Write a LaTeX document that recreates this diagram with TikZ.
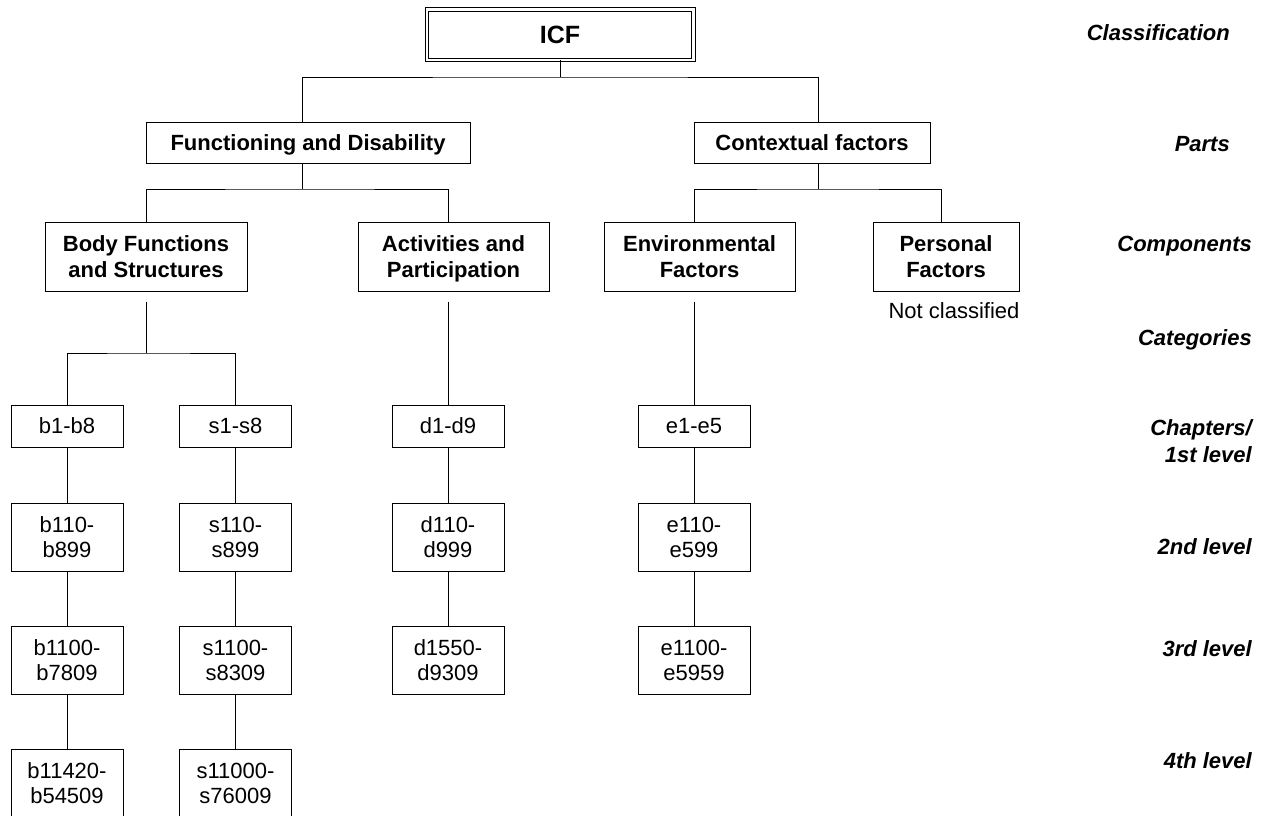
\documentclass[tikz,border=0pt]{standalone}
\usepackage{fontspec}
\setmainfont{Liberation Sans}
\usetikzlibrary{calc}
\begin{document}
\begin{tikzpicture}[x=1pt,y=-1pt,
  conn/.style={line width=1pt},
  box/.style={draw,line width=1pt,inner sep=0pt,align=center,text depth=0pt},
  one/.style={text height=15.75pt},
  two/.style={text height=41.25pt},
  topbox/.style={box,font=\fontsize{22}{25.5}\selectfont\bfseries},
  codebox/.style={box,minimum width=112pt,font=\fontsize{22}{25.5}\selectfont},
  lvl/.style={anchor=base east,inner sep=0pt,align=right,font=\fontsize{22}{27}\selectfont\bfseries\itshape}]
\useasboundingbox (0,0) rectangle (1261,815);
% top
\node[box,double,double distance=2.5pt,minimum width=266.5pt,minimum height=50.5pt,text height=17.9pt,font=\fontsize{25}{28}\selectfont\bfseries] (icf) at (560,34.5) {ICF};
\node[topbox,one,minimum width=324pt,minimum height=41pt] (fd) at (308,142.5) {Functioning and Disability};
\node[topbox,one,minimum width=236pt,minimum height=41pt] (cf) at (812,142.5) {Contextual factors};
\node[topbox,two,minimum width=202pt,minimum height=69pt] (bfs) at (146,256.5) {Body Functions\\and Structures};
\node[topbox,two,minimum width=191pt,minimum height=69pt] (ap) at (453.5,256.5) {Activities and\\Participation};
\node[topbox,two,minimum width=191pt,minimum height=69pt] (ef) at (699.5,256.5) {Environmental\\Factors};
\node[topbox,two,minimum width=146pt,minimum height=69pt] (pf) at (946,256.5) {Personal\\Factors};
\node[anchor=base,inner sep=0pt,font=\fontsize{22}{25}\selectfont] (nc) at (954,318) {Not classified};
% code boxes
\node[codebox,one,minimum height=42pt] (b1) at (67,426) {b1-b8};
\node[codebox,one,minimum height=42pt] (s1) at (235.5,426) {s1-s8};
\node[codebox,one,minimum height=42pt] (d1) at (448,426) {d1-d9};
\node[codebox,one,minimum height=42pt] (e1) at (694,426) {e1-e5};
\node[codebox,two,minimum height=68pt] (b2) at (67,537) {b110-\\b899};
\node[codebox,two,minimum height=68pt] (s2) at (235.5,537) {s110-\\s899};
\node[codebox,two,minimum height=68pt] (d2) at (448,537) {d110-\\d999};
\node[codebox,two,minimum height=68pt] (e2) at (694,537) {e110-\\e599};
\node[codebox,two,minimum height=68pt] (b3) at (67,660) {b1100-\\b7809};
\node[codebox,two,minimum height=68pt] (s3) at (235.5,660) {s1100-\\s8309};
\node[codebox,two,minimum height=68pt] (d3) at (448,660) {d1550-\\d9309};
\node[codebox,two,minimum height=68pt] (e3) at (694,660) {e1100-\\e5959};
\node[codebox,two,minimum height=68pt] (b4) at (67,783) {b11420-\\b54509};
\node[codebox,two,minimum height=68pt] (s4) at (235.5,783) {s11000-\\s76009};
% connectors
\coordinate (j0) at (560,77);
\coordinate (j1) at (302,189);
\coordinate (j2) at (818,189);
\coordinate (j3) at (146,353);
\draw[conn] (icf.south) -- (j0);
\draw[conn] ([xshift=-6pt]fd.north) |- (j0) -| ([xshift=6pt]cf.north);
\draw[conn] ([xshift=-6pt]fd.south) -- (j1);
\draw[conn] (bfs.north) |- (j1) -| ([xshift=-5.5pt]ap.north);
\draw[conn] ([xshift=6pt]cf.south) -- (j2);
\draw[conn] ([xshift=-5.5pt]ef.north) |- (j2) -| ([xshift=-5pt]pf.north);
\draw[conn] ([yshift=-10pt]bfs.south) -- (j3);
\draw[conn] (b1.north) |- (j3) -| (s1.north);
\draw[conn] ([yshift=-10pt]ap.south -| d1.north) -- (d1.north);
\draw[conn] ([yshift=-10pt]ef.south -| e1.north) -- (e1.north);
\draw[conn] (b1) -- (b2); \draw[conn] (b2) -- (b3); \draw[conn] (b3) -- (b4);
\draw[conn] (s1) -- (s2); \draw[conn] (s2) -- (s3); \draw[conn] (s3) -- (s4);
\draw[conn] (d1) -- (d2); \draw[conn] (d2) -- (d3);
\draw[conn] (e1) -- (e2); \draw[conn] (e2) -- (e3);
% level labels
\node[lvl] (lc) at (1230,40) {Classification};
\node[lvl] (lp) at (1230,151) {Parts};
\node[lvl] (lco) at (1252,251) {Components};
\node[lvl] (lca) at (1252,345) {Categories};
\node[lvl] (l1) at (1252,462) {Chapters/\\1st level};
\node[lvl] (l2) at (1252,554) {2nd level};
\node[lvl] (l3) at (1252,656) {3rd level};
\node[lvl] (l4) at (1252,768) {4th level};
\end{tikzpicture}
\end{document}
